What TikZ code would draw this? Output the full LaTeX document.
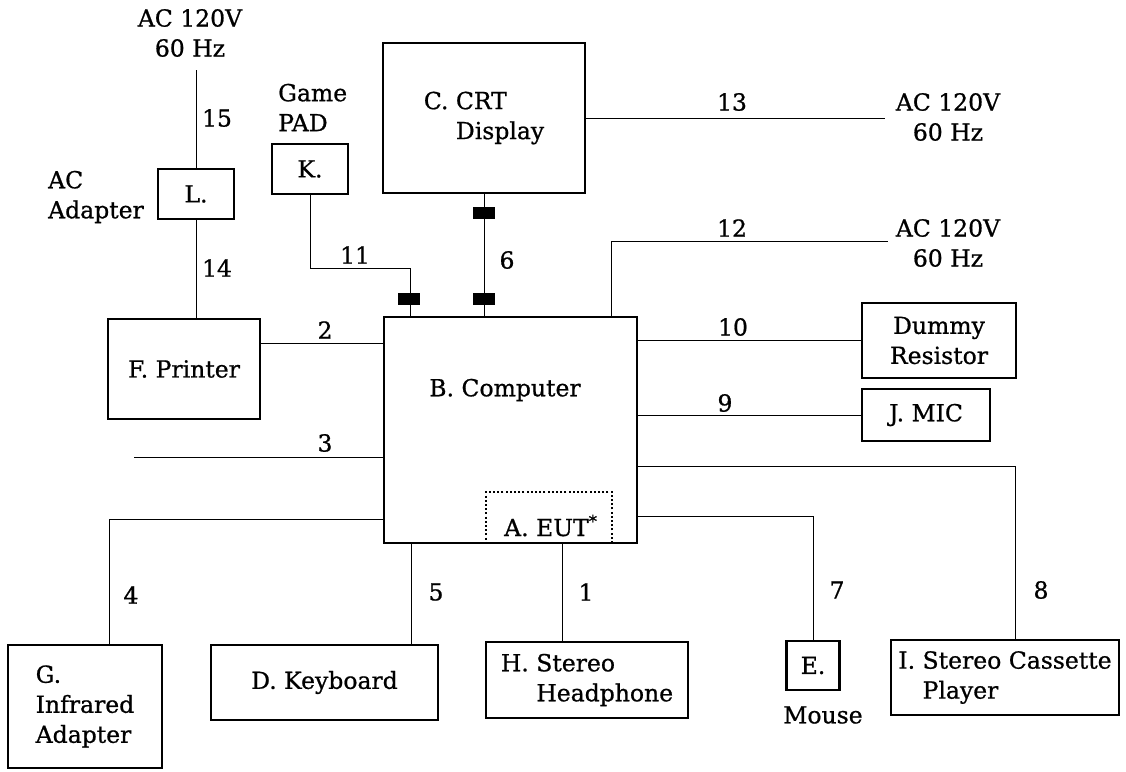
\documentclass[tikz,border=0pt]{standalone}
\usepackage{fontspec}
\setmainfont{DejaVu Serif}[RawFeature={embolden=0.8}]
\begin{document}
\begin{tikzpicture}[x=1pt,y=-1pt,
  every node/.style={font=\fontsize{23.5}{30}\selectfont, inner sep=0pt},
  box/.style={draw, line width=2.5pt, align=center},
  wire/.style={line width=1pt},
  plug/.style={fill=black, draw=none, minimum width=22pt, minimum height=12pt},
  eut/.style={draw, line width=2.2pt, dash pattern=on 2pt off 2.2pt}]
\useasboundingbox (0,0) rectangle (1126,771);
% boxes
\node[box, minimum width=76pt, minimum height=50pt] (L) at (196,194) {L.};
\node[box, minimum width=76pt, minimum height=50pt] (K) at (310,169) {K.};
\node[box, minimum width=202pt, minimum height=150pt, align=left] (C) at (484,118) {C. CRT\\\hphantom{C. }Display};
\node[box, minimum width=152pt, minimum height=100pt] (F) at (184,369) {F. Printer};
\node[eut, minimum width=126pt, minimum height=51pt] (A) at (549,517.5) {};
\node[box, minimum width=253pt, minimum height=226pt] (B) at (510.5,430) {};
\node (Bt) at (505,390) {B. Computer};
\node[anchor=base west] (At) at (504,536) {A. EUT\textsuperscript{*}};
\node[box, minimum width=154pt, minimum height=75pt] (R) at (939,340.5) {Dummy\\Resistor};
\node[box, minimum width=128pt, minimum height=52pt] (J) at (926,415) {J. MIC};
\node[box, minimum width=154pt, minimum height=123pt, align=left] (G) at (85,706.5) {G.\\Infrared\\Adapter};
\node[box, minimum width=227pt, minimum height=75pt] (D) at (324.5,682.5) {D. Keyboard};
\node[box, minimum width=202pt, minimum height=76pt, align=left] (H) at (587,680) {H. Stereo\\\hphantom{H. }Headphone};
\node[box, minimum width=53pt, minimum height=49pt] (E) at (813,665.5) {E.};
\node[box, minimum width=228pt, minimum height=75pt, align=left] (I) at (1005,677.5) {I. Stereo Cassette\\\hphantom{I. }Player};
% free texts
\node[align=center] (ac1) at (190,33) {AC 120V\\60 Hz};
\node[align=center] (ac2) at (948,117) {AC 120V\\60 Hz};
\node[align=center] (ac3) at (948,243) {AC 120V\\60 Hz};
\node[align=left, anchor=west] (adp) at (48,197) {AC\\Adapter};
\node[align=left, anchor=west] (gp) at (278,107.5) {Game\\PAD};
\node (mouse) at (823,715) {Mouse};
% coordinates
\coordinate (t15) at (196,70);
\coordinate (k11) at (410,268);
\coordinate (t13) at (885,118);
\coordinate (t12) at (611,241);
\coordinate (e12) at (888,241);
\coordinate (y2) at (0,343);
\coordinate (s3) at (134,457);
\coordinate (g4) at (109,519);
\coordinate (x5) at (411,600);
\coordinate (x1) at (562,600);
\coordinate (m7) at (813,516);
\coordinate (s8) at (1015,466);
% wires
\draw[wire] (t15) -- (L.north);
\draw[wire] (L.south) -- (L.south |- F.north);
\draw[wire] (K.south) |- (k11) -- (k11 |- B.north);
\draw[wire] (C.south) -- (C.south |- B.north);
\draw[wire] (C.east) -- (t13);
\draw[wire] (t12 |- B.north) -- (t12) -- (e12);
\draw[wire] (F.east |- y2) -- (B.west |- y2);
\draw[wire] (s3) -- (s3 -| B.west);
\draw[wire] (g4 -| B.west) -- (g4) -- (g4 |- G.north);
\draw[wire] (x5 |- B.south) -- (x5 |- D.north);
\draw[wire] (x1 |- B.south) -- (x1 |- H.north);
\draw[wire] (m7 -| B.east) -- (m7) -- (E.north);
\draw[wire] (s8 -| B.east) -- (s8) -- (s8 |- I.north);
\draw[wire] (J.west) -- (J.west -| B.east);
\draw[wire] (R.west) -- (R.west -| B.east);
% plugs
\node[plug] (p11) at (409,299) {};
\node[plug] (p6a) at (484,213) {};
\node[plug] (p6b) at (484,299) {};
% cable numbers
\node (n15) at (217,118) {15};
\node (n14) at (217,268) {14};
\node (n11) at (355,255) {11};
\node (n6) at (507,260) {6};
\node (n13) at (732,102) {13};
\node (n12) at (732,228) {12};
\node (n2) at (325,330) {2};
\node (n3) at (325,443) {3};
\node (n10) at (733,327) {10};
\node (n9) at (725,403) {9};
\node (n4) at (131,595) {4};
\node (n5) at (436,592) {5};
\node (n1) at (586,592) {1};
\node (n7) at (837,590) {7};
\node (n8) at (1041,590) {8};
\end{tikzpicture}
\end{document}
